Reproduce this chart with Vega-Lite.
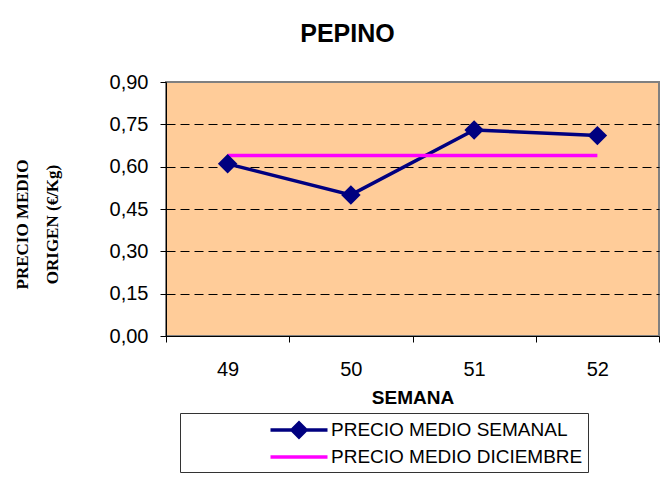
{
  "$schema": "https://vega.github.io/schema/vega-lite/v6.json",
  "width": 493,
  "height": 254,
  "autosize": {"type": "none"},
  "padding": {"left": 166, "top": 82, "right": 11, "bottom": 150},
  "background": "white",
  "title": {
    "text": "PEPINO",
    "font": "Liberation Sans",
    "fontSize": 25,
    "fontWeight": "bold",
    "color": "black",
    "anchor": "middle",
    "frame": "group",
    "dx": -65,
    "baseline": "alphabetic",
    "offset": 5
  },
  "config": {
    "view": {"fill": "#FFCC99", "stroke": "#808080", "strokeWidth": 2},
    "axis": {
      "labelFont": "Liberation Sans",
      "labelFontSize": 20,
      "labelColor": "black",
      "domainColor": "black",
      "tickColor": "black",
      "domainWidth": 1,
      "tickWidth": 1,
      "tickSize": 6
    }
  },
  "data": {
    "values": [
      {"semana": "49", "serie": "PRECIO MEDIO SEMANAL", "precio": 0.61},
      {"semana": "50", "serie": "PRECIO MEDIO SEMANAL", "precio": 0.50},
      {"semana": "51", "serie": "PRECIO MEDIO SEMANAL", "precio": 0.73},
      {"semana": "52", "serie": "PRECIO MEDIO SEMANAL", "precio": 0.71},
      {"semana": "49", "serie": "PRECIO MEDIO DICIEMBRE", "precio": 0.64},
      {"semana": "50", "serie": "PRECIO MEDIO DICIEMBRE", "precio": 0.64},
      {"semana": "51", "serie": "PRECIO MEDIO DICIEMBRE", "precio": 0.64},
      {"semana": "52", "serie": "PRECIO MEDIO DICIEMBRE", "precio": 0.64}
    ]
  },
  "encoding": {
    "x": {
      "field": "semana",
      "type": "ordinal",
      "bandPosition": 0.5,
      "scale": {"type": "band", "domain": ["49", "50", "51", "52"], "paddingInner": 0, "paddingOuter": 0},
      "axis": {
        "title": "SEMANA",
        "titleFont": "Liberation Sans",
        "titleFontSize": 19,
        "titleFontWeight": "bold",
        "titleColor": "black",
        "titleBaseline": "alphabetic",
        "titleY": 67,
        "labelAngle": 0,
        "labelBaseline": "alphabetic",
        "labelPadding": 33,
        "tickBand": "extent",
        "grid": false
      }
    },
    "y": {
      "field": "precio",
      "type": "quantitative",
      "scale": {"domain": [0, 0.9], "nice": false},
      "axis": {
        "values": [0, 0.15, 0.3, 0.45, 0.6, 0.75, 0.9],
        "labelExpr": "replace(format(datum.value, '.2f'), '.', ',')",
        "labelPadding": 12,
        "grid": true,
        "gridColor": "black",
        "gridDash": [9, 5],
        "gridWidth": 1,
        "gridOpacity": {"condition": {"test": "datum.value > 0.89 || datum.value < 0.01", "value": 0}, "value": 1},
        "title": ["PRECIO MEDIO", "ORIGEN (€/Kg)"],
        "titleFont": "Liberation Serif",
        "titleFontSize": 17,
        "titleFontWeight": "bold",
        "titleColor": "black",
        "titleAngle": -90,
        "titleAlign": "center",
        "titleBaseline": "top",
        "titleLineHeight": 30,
        "titleX": -152,
        "titleY": 142
      }
    }
  },
  "layer": [
    {
      "mark": {"type": "line", "strokeWidth": 3.5},
      "encoding": {
        "color": {
          "field": "serie",
          "type": "nominal",
          "scale": {"domain": ["PRECIO MEDIO SEMANAL", "PRECIO MEDIO DICIEMBRE"], "range": ["#000080", "#FF00FF"]},
          "legend": {
            "title": null,
            "orient": "none",
            "legendX": 14,
            "legendY": 331,
            "direction": "vertical",
            "strokeColor": "#333333",
            "fillColor": "white",
            "padding": 5,
            "rowPadding": 1,
            "symbolSize": 400,
            "symbolOffset": 102,
            "symbolStrokeWidth": 3.5,
            "labelOffset": 20,
            "labelFont": "Liberation Sans",
            "labelFontSize": 19,
            "labelColor": "black",
            "labelExpr": "datum.label + '\u00a0\u00a0\u00a0\u00a0\u00a0\u00a0\u00a0\u00a0\u00a0\u00a0\u00a0\u00a0\u00a0\u00a0\u00a0\u00a0\u00a0\u00a0'",
            "labelLimit": 600,
            "encode": {
              "symbols": {
                "update": {
                  "shape": {"signal": "datum.value == 'PRECIO MEDIO SEMANAL' ? 'M-2.85,0H2.85M-0.7,0L0,-0.7L0.7,0L0,0.7Z' : 'M-2.85,0H2.85'"},
                  "fill": {"signal": "datum.value == 'PRECIO MEDIO SEMANAL' ? '#000080' : 'transparent'"},
                  "opacity": {"value": 1}
                }
              }
            }
          }
        }
      }
    },
    {
      "transform": [{"filter": "datum.serie == 'PRECIO MEDIO SEMANAL'"}],
      "mark": {"type": "point", "shape": "diamond", "filled": true, "size": 380, "color": "#000080", "opacity": 1}
    }
  ]
}
